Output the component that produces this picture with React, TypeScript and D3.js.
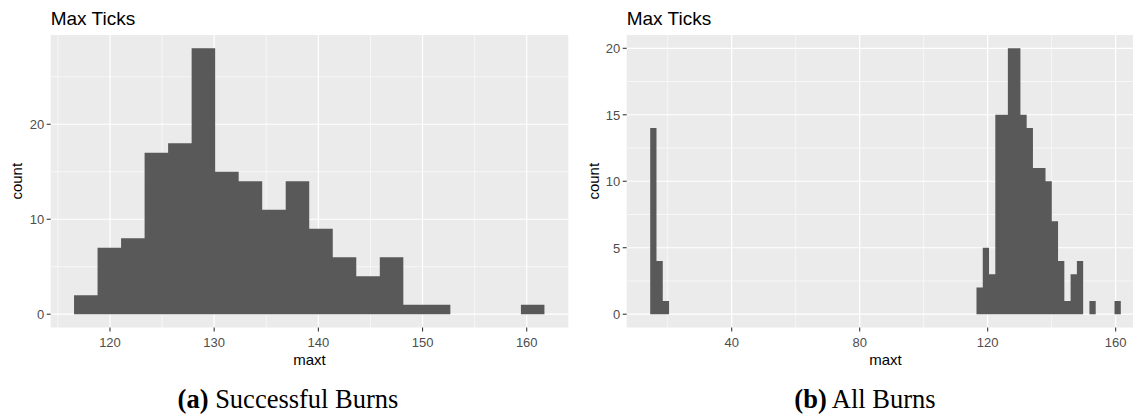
import React from "react";
import * as d3 from "d3";

// ---------- data ----------
const leftTitle = "Max Ticks";
const rightTitle = "Max Ticks";
const xAxisTitle = "maxt";
const yAxisTitle = "count";

// Successful burns: 20 bins
const leftBinStart = 116.55;
const leftBinWidth = 2.2575;
const leftCounts = [2, 7, 8, 17, 18, 28, 15, 14, 11, 14, 9, 6, 4, 6, 1, 1, 0, 0, 0, 1];
const leftXTicks = [120, 130, 140, 150, 160];
const leftXMinor = [115, 125, 135, 145, 155];
const leftYTicks = [0, 10, 20];
const leftYMinor = [5, 15, 25];

// All burns: 75 bins
const rightBinStart = 14.53;
const rightBinWidth = 1.961;
const rightCounts = [
  14, 4, 1,
  0, 0, 0, 0, 0, 0, 0, 0, 0, 0,
  0, 0, 0, 0, 0, 0, 0, 0, 0, 0,
  0, 0, 0, 0, 0, 0, 0, 0, 0, 0,
  0, 0, 0, 0, 0, 0, 0, 0, 0, 0,
  0, 0, 0, 0, 0, 0, 0, 0, 0,
  2, 5, 3, 15, 15, 20, 20, 15, 14, 11, 11, 10, 7, 4, 1, 3, 4, 0, 1, 0, 0, 0, 1,
];
const rightXTicks = [40, 80, 120, 160];
const rightXMinor = [20, 60, 100, 140];
const rightYTicks = [0, 5, 10, 15, 20];
const rightYMinor = [2.5, 7.5, 12.5, 17.5];

const captionA = { label: "(a)", text: " Successful Burns" };
const captionB = { label: "(b)", text: " All Burns" };

// ---------- rendering ----------
const SANS = "'Liberation Sans', Arial, sans-serif";
const SERIF = "'Liberation Serif', 'Times New Roman', serif";
const PANEL_BG = "#EBEBEB";
const BAR = "#595959";

type PanelProps = {
  left: number;
  right: number;
  top: number;
  bottom: number;
  xDomain: [number, number];
  yDomain: [number, number];
  binStart: number;
  binWidth: number;
  counts: number[];
  xTicks: number[];
  xMinor: number[];
  yTicks: number[];
  yMinor: number[];
  title: string;
  yTitleX: number;
  caption: { label: string; text: string };
  captionX: number;
};

function Panel(p: PanelProps) {
  const x = d3.scaleLinear().domain(p.xDomain).range([p.left, p.right]);
  const y = d3.scaleLinear().domain(p.yDomain).range([p.bottom, p.top]);
  const bins = p.counts.map((c, i) => ({
    x0: p.binStart + i * p.binWidth,
    x1: p.binStart + (i + 1) * p.binWidth,
    c,
  }));
  // one step path per histogram so adjacent bars show no seams
  const path = d3.path();
  let open = false;
  bins.forEach((b, i) => {
    if (b.c > 0) {
      if (!open) {
        path.moveTo(x(b.x0), y(0));
        open = true;
      }
      path.lineTo(x(b.x0), y(b.c));
      path.lineTo(x(b.x1), y(b.c));
      const next = bins[i + 1];
      if (!next || next.c === 0) {
        path.lineTo(x(b.x1), y(0));
        path.closePath();
        open = false;
      }
    }
  });
  const cx = (p.left + p.right) / 2;
  const cy = (p.top + p.bottom) / 2;
  return (
    <g>
      <text x={p.left} y={25} fontFamily={SANS} fontSize={19} fill="#000">
        {p.title}
      </text>
      <rect x={p.left} y={p.top} width={p.right - p.left} height={p.bottom - p.top} fill={PANEL_BG} />
      {p.yMinor.map((v) => (
        <line key={"ym" + v} x1={p.left} x2={p.right} y1={y(v)} y2={y(v)} stroke="#fff" strokeWidth={0.6} />
      ))}
      {p.xMinor.map((v) => (
        <line key={"xm" + v} x1={x(v)} x2={x(v)} y1={p.top} y2={p.bottom} stroke="#fff" strokeWidth={0.6} />
      ))}
      {p.yTicks.map((v) => (
        <line key={"yM" + v} x1={p.left} x2={p.right} y1={y(v)} y2={y(v)} stroke="#fff" strokeWidth={1.2} />
      ))}
      {p.xTicks.map((v) => (
        <line key={"xM" + v} x1={x(v)} x2={x(v)} y1={p.top} y2={p.bottom} stroke="#fff" strokeWidth={1.2} />
      ))}
      <path d={path.toString()} fill={BAR} />
      {p.yTicks.map((v) => (
        <g key={"yt" + v}>
          <line x1={p.left - 4} x2={p.left} y1={y(v)} y2={y(v)} stroke="#333" strokeWidth={1.07} />
          <text x={p.left - 6.5} y={y(v) + 4.8} textAnchor="end" fontFamily={SANS} fontSize={13} fill="#4D4D4D">
            {v}
          </text>
        </g>
      ))}
      {p.xTicks.map((v) => (
        <g key={"xt" + v}>
          <line x1={x(v)} x2={x(v)} y1={p.bottom} y2={p.bottom + 4} stroke="#333" strokeWidth={1.07} />
          <text x={x(v)} y={346.7} textAnchor="middle" fontFamily={SANS} fontSize={13} fill="#4D4D4D">
            {v}
          </text>
        </g>
      ))}
      <text x={cx} y={365} textAnchor="middle" fontFamily={SANS} fontSize={15} fill="#000">
        {xAxisTitle}
      </text>
      <text
        transform={`translate(${p.yTitleX},${cy}) rotate(-90)`}
        textAnchor="middle"
        fontFamily={SANS}
        fontSize={15}
        fill="#000"
      >
        {yAxisTitle}
      </text>
      <text x={p.captionX} y={408} textAnchor="middle" fontFamily={SERIF} fontSize={26.5} fill="#000">
        <tspan fontWeight="bold">{p.caption.label}</tspan>
        <tspan>{p.caption.text}</tspan>
      </text>
    </g>
  );
}

export default function App() {
  return (
    <svg
      width={1133}
      height={414}
      style={{ position: "absolute", left: 0, top: 0, background: "#fff" }}
    >
      <rect x={0} y={0} width={1133} height={414} fill="#fff" />
      <Panel
        left={50.7}
        right={568.3}
        top={35}
        bottom={327.5}
        xDomain={[114.31, 163.99]}
        yDomain={[-1.4, 29.4]}
        binStart={leftBinStart}
        binWidth={leftBinWidth}
        counts={leftCounts}
        xTicks={leftXTicks}
        xMinor={leftXMinor}
        yTicks={leftYTicks}
        yMinor={leftYMinor}
        title={leftTitle}
        yTitleX={22}
        caption={captionA}
        captionX={288}
      />
      <Panel
        left={626.7}
        right={1144.3}
        top={35}
        bottom={327.5}
        xDomain={[7.18, 168.95]}
        yDomain={[-1, 21]}
        binStart={rightBinStart}
        binWidth={rightBinWidth}
        counts={rightCounts}
        xTicks={rightXTicks}
        xMinor={rightXMinor}
        yTicks={rightYTicks}
        yMinor={rightYMinor}
        title={rightTitle}
        yTitleX={599}
        caption={captionB}
        captionX={865}
      />
    </svg>
  );
}
